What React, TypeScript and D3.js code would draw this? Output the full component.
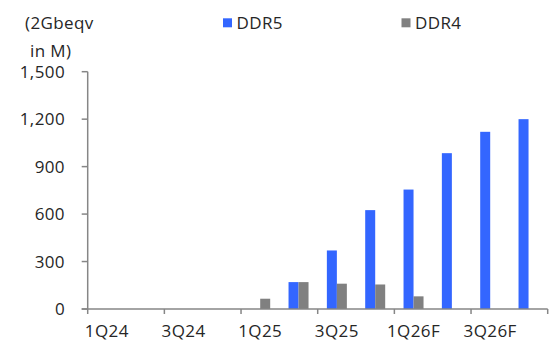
import React from "react";
import * as d3 from "d3";

// Quarterly shipments, 2Gb equivalent units in millions
const quarters = [
  "1Q24", "2Q24", "3Q24", "4Q24",
  "1Q25", "2Q25", "3Q25", "4Q25",
  "1Q26F", "2Q26F", "3Q26F", "4Q26F",
];
const ddr5 = [0, 0, 0, 0, 0, 170, 370, 625, 755, 985, 1120, 1200];
const ddr4 = [0, 0, 0, 0, 65, 170, 160, 155, 80, 0, 0, 0];
const seriesNames = ["DDR5", "DDR4"];
const yTicks = [0, 300, 600, 900, 1200, 1500];
const unitLines = ["(2Gbeqv", "in M)"];

const W = 550;
const H = 347;
const left = 87.7;
const right = 547.7;
const top = 71.7;
const bottom = 309;

const colors: Record<string, string> = { DDR5: "#3366ff", DDR4: "#808080" };
const axisColor = "#868686";
const textColor = "#262626";
const font = "'Open Sans', 'Noto Sans', sans-serif";

export default function App() {
  const x = d3.scaleBand<string>().domain(quarters).range([left, right]).padding(0);
  const xSub = d3
    .scaleBand<string>()
    .domain(seriesNames)
    .range([0, x.bandwidth()])
    .paddingInner(0)
    .paddingOuter(0.917);
  const y = d3.scaleLinear().domain([0, 1500]).range([bottom, top]);

  const values: Record<string, number[]> = { DDR5: ddr5, DDR4: ddr4 };
  // Category boundaries at every second quarter, plus the far end
  const boundaryTicks = d3.range(0, quarters.length + 1, 2).map((i) =>
    i < quarters.length ? (x(quarters[i]) as number) : right
  );
  const labelled = quarters.filter((_, i) => i % 2 === 0);
  const captionPos = [
    { x: 25, y: 28.5 },
    { x: 30, y: 57 },
  ];

  return (
    <svg
      width={W}
      height={H}
      style={{ position: "fixed", left: 0, top: 0, background: "#fff" }}
      fontFamily={font}
    >
      {/* unit caption */}
      {unitLines.map((t, i) => (
        <text
          key={t}
          x={captionPos[i].x}
          y={captionPos[i].y}
          fontSize={17}
          fill={textColor}
          letterSpacing={0.4}
        >
          {t}
        </text>
      ))}

      {/* legend */}
      {seriesNames.map((s, i) => {
        const lx = i === 0 ? 223 : 401.5;
        return (
          <g key={s}>
            <rect x={lx} y={18.3} width={9} height={9} fill={colors[s]} />
            <text x={lx + 13.5} y={29.3} fontSize={17} fill={textColor} letterSpacing={0.4}>
              {s}
            </text>
          </g>
        );
      })}

      {/* bars */}
      {seriesNames.map((s) =>
        quarters.map((q, i) => {
          const v = values[s][i];
          if (!v) return null;
          return (
            <rect
              key={s + q}
              x={(x(q) as number) + (xSub(s) as number)}
              y={y(v)}
              width={xSub.bandwidth()}
              height={y(0) - y(v)}
              fill={colors[s]}
            />
          );
        })
      )}

      {/* y axis */}
      <line x1={left} x2={left} y1={top} y2={bottom} stroke={axisColor} strokeWidth={1.5} />
      {yTicks.map((t) => (
        <g key={t}>
          <line x1={left - 6} x2={left} y1={y(t)} y2={y(t)} stroke={axisColor} strokeWidth={1.5} />
          <text
            x={65}
            y={y(t)}
            dy="0.36em"
            textAnchor="end"
            fontSize={17}
            fill={textColor}
            letterSpacing={0.4}
          >
            {d3.format(",")(t)}
          </text>
        </g>
      ))}

      {/* x axis */}
      <line x1={left - 6} x2={right} y1={bottom} y2={bottom} stroke={axisColor} strokeWidth={1.5} />
      {boundaryTicks.map((bx, i) => (
        <line key={i} x1={bx} x2={bx} y1={bottom} y2={bottom + 5} stroke={axisColor} strokeWidth={1.5} />
      ))}
      {labelled.map((q) => (
        <text
          key={q}
          x={(x(q) as number) + x.bandwidth() / 2}
          y={337}
          textAnchor="middle"
          fontSize={17}
          fill={textColor}
          letterSpacing={0.4}
        >
          {q}
        </text>
      ))}
    </svg>
  );
}
